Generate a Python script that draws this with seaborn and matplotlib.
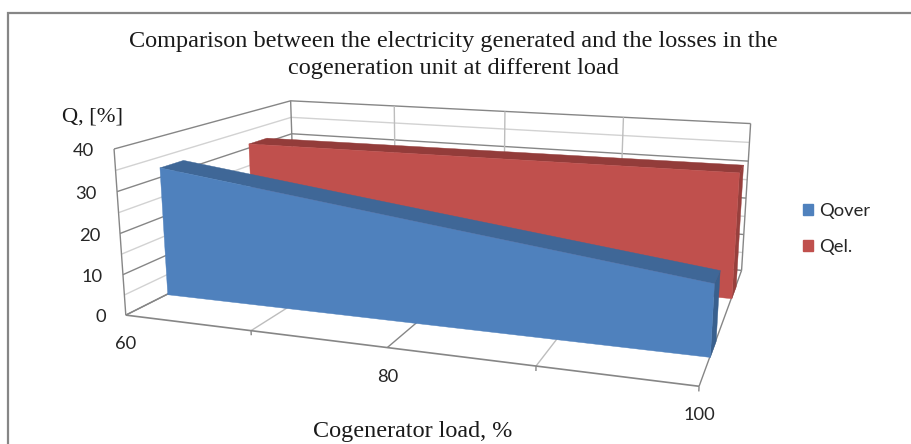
import matplotlib
matplotlib.use("Agg")
import matplotlib.pyplot as plt
from matplotlib.patches import Patch, Rectangle
from mpl_toolkits.mplot3d import proj3d
from mpl_toolkits.mplot3d.art3d import Poly3DCollection
import seaborn as sns

# Chart data
load_levels = [60, 80, 100]
qover = [32.5, 24.4, 16.4]
qel = [31.3, 31.6, 31.9]
load_ticks = [60, 70, 80, 90, 100]
load_labels = {60: "60", 80: "80", 100: "100"}
stub_ticks = [70, 90, 100]
q_ticks = [0, 5, 10, 15, 20, 25, 30, 35, 40]
q_labels = [0, 10, 20, 30, 40]

TITLE = ("Comparison between the electricity generated and the losses in the\n"
         "cogeneration unit at different load")

# Depth slots of the two ribbons on the floor (0 = front, 1 = back wall)
QOVER_DEPTH = (0.20, 0.32)
QEL_DEPTH = (0.70, 0.82)

sns.set_theme(style="white")
blue, blue_top, blue_side = sns.color_palette(["#4F81BD", "#3F6797", "#39608E"])
red, red_top, red_side = sns.color_palette(["#C0504D", "#933C3A", "#97403D"])
DARK = "#868686"
LIGHT = "#D2D2D2"

fig = plt.figure(figsize=(9.12, 4.44), dpi=100, facecolor="white")
side = 641.93
ax = fig.add_axes([123.87 / 912, -100.29 / 444, side / 912, side / 444],
                  projection="3d", computed_zorder=False)
ax.set_proj_type("persp", focal_length=0.3253)
ax.view_init(elev=13.421, azim=-70.662)
ax.set_box_aspect((3.3573, 2.1830, 1))
ax.set_axis_off()
ax.patch.set_alpha(0)


def wall_line(xs, ys, zs, color, lw=1.0):
    ax.plot(xs, ys, zs, color=color, lw=lw, clip_on=False, zorder=1,
            solid_capstyle="butt")


xmin, xmax = load_ticks[0], load_ticks[-1]
zmax = q_ticks[-1]

# Horizontal gridlines around the left and back walls
for q in q_ticks:
    color = DARK if q % 10 == 0 else LIGHT
    wall_line([xmin, xmin, xmax], [0, 1, 1], [q, q, q], color)

# Vertical gridlines on the back wall and lines across the floor
for x in load_ticks:
    wall_line([x, x], [1, 1], [0, zmax], DARK if x in (xmin, xmax) else "#BDBDBD")
    wall_line([x, x], [0, 1], [0, 0], DARK if x in load_labels else "#BDBDBD")
for x in stub_ticks:
    wall_line([x, x], [0, 0], [0, -1.1], DARK)
wall_line([xmin, xmin], [0, 0], [0, zmax], DARK)
wall_line([xmin, xmax], [0, 0], [0, 0], DARK, 1.2)


def ribbon(values, depth, front, top, right, order):
    d0, d1 = depth
    x0, x1 = load_levels[0], load_levels[-1]
    front_top = [(x, d0, v) for x, v in zip(load_levels, values)]
    back_top = [(x, d1, v) for x, v in zip(load_levels, values)]
    faces = [
        ([(x0, d0, 0), *front_top, (x1, d0, 0)], front, order + 2),
        ([*front_top, *back_top[::-1]], top, order + 1),
        ([(x1, d0, 0), (x1, d1, 0), back_top[-1], front_top[-1]], right, order),
    ]
    for verts, color, z in faces:
        poly = Poly3DCollection([verts], facecolors=color, edgecolors=color,
                                linewidths=0.3, zorder=z)
        poly.set_clip_on(False)
        ax.add_collection3d(poly)


ribbon(qel, QEL_DEPTH, red, red_top, red_side, 10)
ribbon(qover, QOVER_DEPTH, blue, blue_top, blue_side, 20)

ax.set_xlim(xmin, xmax)
ax.set_ylim(0, 1)
ax.set_zlim(0, zmax)

# Tick labels are anchored to projected points on the axes edges
proj = ax.get_proj()
tick_font = dict(family="Lato", fontsize=13.2, color="#262626",
                 textcoords="offset pixels", annotation_clip=False)
for q in q_labels:
    px, py, _ = proj3d.proj_transform(xmin, 0, q, proj)
    ax.annotate(str(q), (px, py), xytext=(-20, -2), ha="right", va="center", **tick_font)
for x, label in load_labels.items():
    px, py, _ = proj3d.proj_transform(x, 0, 0, proj)
    ax.annotate(label, (px, py), xytext=(0, -29), ha="center", va="center", **tick_font)

serif = "Liberation Serif"
fig.text(453 / 912, 1 - 55 / 444, TITLE, family=serif, fontsize=17.5, color="#1a1a1a",
         ha="center", va="center", linespacing=1.35)
fig.text(92.5 / 912, 1 - 117 / 444, "Q, [%]", family=serif, fontsize=16.2, color="#1a1a1a",
         ha="center", va="center")
fig.text(413 / 912, 1 - 431 / 444, "Cogenerator load, %", family=serif, fontsize=17.4,
         color="#1a1a1a", ha="center", va="center")

# Chart frame: only its top and left edges fall inside the canvas
fig.add_artist(Rectangle((8.5 / 912, -0.1), 1.2, 1.1 - 13 / 444, transform=fig.transFigure,
                         fill=False, edgecolor=DARK, linewidth=1.6))

legend_handles = [Patch(facecolor=blue, edgecolor=blue, label="Qover"),
                  Patch(facecolor=red, edgecolor=red, label="Qel.")]
fig.legend(handles=legend_handles, loc="upper left",
           bbox_to_anchor=(797.5 / 912, 1 - 197.5 / 444), frameon=False,
           prop={"family": "Lato", "size": 13.2}, labelcolor="#262626",
           handlelength=0.56, handleheight=0.56, handletextpad=0.3,
           labelspacing=1.1, borderpad=0.3, borderaxespad=0)

fig.savefig("out.png", dpi=100, facecolor="white")
